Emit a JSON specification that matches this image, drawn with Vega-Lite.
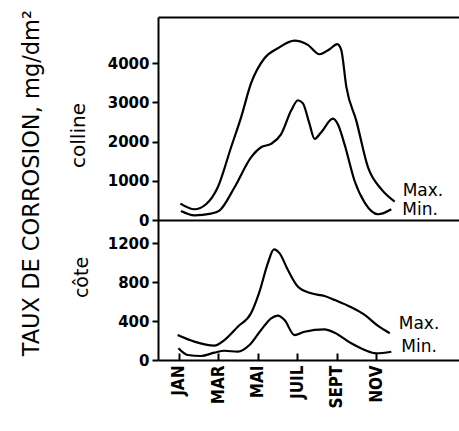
{
  "$schema": "https://vega.github.io/schema/vega-lite/v6.json",
  "background": "white",
  "padding": {"left": 20, "top": 10, "right": 0, "bottom": 0},
  "title": {"text": "TAUX DE CORROSION, mg/dm²", "orient": "left", "anchor": "end", "frame": "group", "font": "DejaVu Sans", "fontSize": 22.5, "fontWeight": "normal", "offset": 25, "dx": 7, "color": "black"},
  "spacing": 0,
  "bounds": "flush",
  "data": {"values": [
    {"panel": "colline", "series": "Max.", "m": 1.07, "v": 418},
    {"panel": "colline", "series": "Max.", "m": 1.78, "v": 274},
    {"panel": "colline", "series": "Max.", "m": 2.37, "v": 402},
    {"panel": "colline", "series": "Max.", "m": 2.96, "v": 828},
    {"panel": "colline", "series": "Max.", "m": 3.64, "v": 1854},
    {"panel": "colline", "series": "Max.", "m": 4.15, "v": 2623},
    {"panel": "colline", "series": "Max.", "m": 4.65, "v": 3479},
    {"panel": "colline", "series": "Max.", "m": 5.33, "v": 4120},
    {"panel": "colline", "series": "Max.", "m": 6.01, "v": 4377},
    {"panel": "colline", "series": "Max.", "m": 6.85, "v": 4572},
    {"panel": "colline", "series": "Max.", "m": 7.53, "v": 4462},
    {"panel": "colline", "series": "Max.", "m": 8.12, "v": 4223},
    {"panel": "colline", "series": "Max.", "m": 8.63, "v": 4351},
    {"panel": "colline", "series": "Max.", "m": 9.02, "v": 4479},
    {"panel": "colline", "series": "Max.", "m": 9.22, "v": 4333},
    {"panel": "colline", "series": "Max.", "m": 9.48, "v": 3392},
    {"panel": "colline", "series": "Max.", "m": 9.98, "v": 2538},
    {"panel": "colline", "series": "Max.", "m": 10.58, "v": 1341},
    {"panel": "colline", "series": "Max.", "m": 11.25, "v": 787},
    {"panel": "colline", "series": "Max.", "m": 11.93, "v": 470},
    {"panel": "colline", "series": "Min.", "m": 1.10, "v": 231},
    {"panel": "colline", "series": "Min.", "m": 1.78, "v": 120},
    {"panel": "colline", "series": "Min.", "m": 2.62, "v": 162},
    {"panel": "colline", "series": "Min.", "m": 3.05, "v": 240},
    {"panel": "colline", "series": "Min.", "m": 3.81, "v": 828},
    {"panel": "colline", "series": "Min.", "m": 4.65, "v": 1595},
    {"panel": "colline", "series": "Min.", "m": 5.16, "v": 1854},
    {"panel": "colline", "series": "Min.", "m": 5.67, "v": 1941},
    {"panel": "colline", "series": "Min.", "m": 6.17, "v": 2183},
    {"panel": "colline", "series": "Min.", "m": 6.69, "v": 2795},
    {"panel": "colline", "series": "Min.", "m": 7.03, "v": 3051},
    {"panel": "colline", "series": "Min.", "m": 7.28, "v": 2970},
    {"panel": "colline", "series": "Min.", "m": 7.61, "v": 2454},
    {"panel": "colline", "series": "Min.", "m": 7.87, "v": 2069},
    {"panel": "colline", "series": "Min.", "m": 8.21, "v": 2238},
    {"panel": "colline", "series": "Min.", "m": 8.80, "v": 2582},
    {"panel": "colline", "series": "Min.", "m": 9.05, "v": 2438},
    {"panel": "colline", "series": "Min.", "m": 9.39, "v": 1928},
    {"panel": "colline", "series": "Min.", "m": 9.90, "v": 994},
    {"panel": "colline", "series": "Min.", "m": 10.41, "v": 444},
    {"panel": "colline", "series": "Min.", "m": 11.09, "v": 146},
    {"panel": "colline", "series": "Min.", "m": 11.76, "v": 274},
    {"panel": "cote", "series": "Max.", "m": 0.93, "v": 256},
    {"panel": "cote", "series": "Max.", "m": 1.78, "v": 188},
    {"panel": "cote", "series": "Max.", "m": 2.79, "v": 147},
    {"panel": "cote", "series": "Max.", "m": 3.30, "v": 205},
    {"panel": "cote", "series": "Max.", "m": 3.98, "v": 342},
    {"panel": "cote", "series": "Max.", "m": 4.65, "v": 479},
    {"panel": "cote", "series": "Max.", "m": 5.08, "v": 701},
    {"panel": "cote", "series": "Max.", "m": 5.50, "v": 991},
    {"panel": "cote", "series": "Max.", "m": 5.81, "v": 1135},
    {"panel": "cote", "series": "Max.", "m": 6.10, "v": 1094},
    {"panel": "cote", "series": "Max.", "m": 6.52, "v": 923},
    {"panel": "cote", "series": "Max.", "m": 7.03, "v": 752},
    {"panel": "cote", "series": "Max.", "m": 7.70, "v": 684},
    {"panel": "cote", "series": "Max.", "m": 8.38, "v": 656},
    {"panel": "cote", "series": "Max.", "m": 8.89, "v": 615},
    {"panel": "cote", "series": "Max.", "m": 9.73, "v": 540},
    {"panel": "cote", "series": "Max.", "m": 10.41, "v": 462},
    {"panel": "cote", "series": "Max.", "m": 11.09, "v": 349},
    {"panel": "cote", "series": "Max.", "m": 11.68, "v": 274},
    {"panel": "cote", "series": "Min.", "m": 0.97, "v": 120},
    {"panel": "cote", "series": "Min.", "m": 1.44, "v": 51},
    {"panel": "cote", "series": "Min.", "m": 2.12, "v": 41},
    {"panel": "cote", "series": "Min.", "m": 2.79, "v": 75},
    {"panel": "cote", "series": "Min.", "m": 3.30, "v": 95},
    {"panel": "cote", "series": "Min.", "m": 3.98, "v": 85},
    {"panel": "cote", "series": "Min.", "m": 4.57, "v": 154},
    {"panel": "cote", "series": "Min.", "m": 5.16, "v": 308},
    {"panel": "cote", "series": "Min.", "m": 5.67, "v": 427},
    {"panel": "cote", "series": "Min.", "m": 6.01, "v": 455},
    {"panel": "cote", "series": "Min.", "m": 6.35, "v": 410},
    {"panel": "cote", "series": "Min.", "m": 6.85, "v": 256},
    {"panel": "cote", "series": "Min.", "m": 7.36, "v": 290},
    {"panel": "cote", "series": "Min.", "m": 8.38, "v": 315},
    {"panel": "cote", "series": "Min.", "m": 8.89, "v": 280},
    {"panel": "cote", "series": "Min.", "m": 9.73, "v": 171},
    {"panel": "cote", "series": "Min.", "m": 10.41, "v": 103},
    {"panel": "cote", "series": "Min.", "m": 11.00, "v": 69},
    {"panel": "cote", "series": "Min.", "m": 11.76, "v": 85}
  ]},
  "vconcat": [
    {
      "width": 302,
      "height": 203,
      "transform": [{"filter": "datum.panel === 'colline'"}],
      "layer": [
        {
          "mark": {"type": "line", "interpolate": "monotone", "stroke": "black", "strokeWidth": 2.2},
          "encoding": {
            "x": {"field": "m", "type": "quantitative", "scale": {"domain": [-0.064, 15.24], "nice": false, "zero": false}, "axis": {"orient": "top", "labels": false, "ticks": false, "title": null, "domain": true}},
            "y": {"field": "v", "type": "quantitative", "scale": {"domain": [0, 5172], "nice": false}, "axis": {"values": [0, 1000, 2000, 3000, 4000], "format": "d", "title": "colline", "titleX": -80, "titleY": 118, "titleBaseline": "middle", "titleFont": "DejaVu Sans", "titleFontSize": 20, "titleFontWeight": "normal", "tickSize": 6, "labelPadding": 3}},
            "detail": {"field": "series"}
          }
        },
        {
          "transform": [{"filter": "datum.series === 'Max.'"}, {"joinaggregate": [{"op": "max", "field": "m", "as": "mmax"}]}, {"filter": "datum.m === datum.mmax"}],
          "mark": {"type": "text", "align": "left", "baseline": "middle", "dx": 8, "dy": -11, "font": "DejaVu Sans", "fontSize": 17, "color": "black"},
          "encoding": {
            "x": {"field": "m", "type": "quantitative", "scale": {"domain": [-0.064, 15.24], "nice": false, "zero": false}, "axis": {"orient": "bottom", "labels": false, "ticks": false, "title": null, "domain": true}},
            "y": {"field": "v", "type": "quantitative", "scale": {"domain": [0, 5172], "nice": false}},
            "text": {"field": "series"}
          }
        },
        {
          "transform": [{"filter": "datum.series === 'Min.'"}, {"joinaggregate": [{"op": "max", "field": "m", "as": "mmax"}]}, {"filter": "datum.m === datum.mmax"}],
          "mark": {"type": "text", "align": "left", "baseline": "middle", "dx": 11, "dy": 1, "font": "DejaVu Sans", "fontSize": 17, "color": "black"},
          "encoding": {
            "x": {"field": "m", "type": "quantitative", "scale": {"domain": [-0.064, 15.24], "nice": false, "zero": false}, "axis": null},
            "y": {"field": "v", "type": "quantitative", "scale": {"domain": [0, 5172], "nice": false}},
            "text": {"field": "series"}
          }
        }
      ],
      "resolve": {"axis": {"x": "independent"}}
    },
    {
      "width": 302,
      "height": 140,
      "transform": [{"filter": "datum.panel === 'cote'"}],
      "layer": [
        {
          "mark": {"type": "line", "interpolate": "monotone", "stroke": "black", "strokeWidth": 2.2},
          "encoding": {
            "x": {"field": "m", "type": "quantitative", "scale": {"domain": [-0.064, 15.24], "nice": false, "zero": false}, "axis": {"orient": "bottom", "values": [1, 2, 3, 4, 5, 6, 7, 8, 9, 10, 11, 12], "labelExpr": "datum.value == 1 ? 'JAN' : datum.value == 3 ? 'MAR' : datum.value == 5 ? 'MAI' : datum.value == 7 ? 'JUIL' : datum.value == 9 ? 'SEPT' : datum.value == 11 ? 'NOV' : ''", "labelAngle": -90, "labelFlush": false, "labelOverlap": false, "labelFont": "DejaVu Sans Condensed", "labelFontSize": 17, "tickSize": -7, "labelPadding": 12, "title": null}},
            "y": {"field": "v", "type": "quantitative", "scale": {"domain": [0, 1436], "nice": false}, "axis": {"values": [0, 400, 800, 1200], "format": "d", "title": "côte", "titleX": -77, "titleY": 57, "titleBaseline": "middle", "titleFont": "DejaVu Sans", "titleFontSize": 19, "titleFontWeight": "normal", "tickSize": 6, "labelPadding": 3}},
            "detail": {"field": "series"}
          }
        },
        {
          "transform": [{"filter": "datum.series === 'Max.'"}, {"joinaggregate": [{"op": "max", "field": "m", "as": "mmax"}]}, {"filter": "datum.m === datum.mmax"}],
          "mark": {"type": "text", "align": "left", "baseline": "middle", "dx": 9, "dy": -9, "font": "DejaVu Sans", "fontSize": 17, "color": "black"},
          "encoding": {
            "x": {"field": "m", "type": "quantitative", "scale": {"domain": [-0.064, 15.24], "nice": false, "zero": false}},
            "y": {"field": "v", "type": "quantitative", "scale": {"domain": [0, 1436], "nice": false}},
            "text": {"field": "series"}
          }
        },
        {
          "transform": [{"filter": "datum.series === 'Min.'"}, {"joinaggregate": [{"op": "max", "field": "m", "as": "mmax"}]}, {"filter": "datum.m === datum.mmax"}],
          "mark": {"type": "text", "align": "left", "baseline": "middle", "dx": 10, "dy": -5, "font": "DejaVu Sans", "fontSize": 17, "color": "black"},
          "encoding": {
            "x": {"field": "m", "type": "quantitative", "scale": {"domain": [-0.064, 15.24], "nice": false, "zero": false}},
            "y": {"field": "v", "type": "quantitative", "scale": {"domain": [0, 1436], "nice": false}},
            "text": {"field": "series"}
          }
        }
      ]
    }
  ],
  "config": {
    "view": {"stroke": null},
    "axis": {"domainColor": "black", "domainWidth": 2, "tickColor": "black", "tickWidth": 2, "labelColor": "black", "grid": false, "labelFont": "DejaVu Sans", "labelFontWeight": "bold", "labelFontSize": 15, "titleColor": "black"}
  }
}
